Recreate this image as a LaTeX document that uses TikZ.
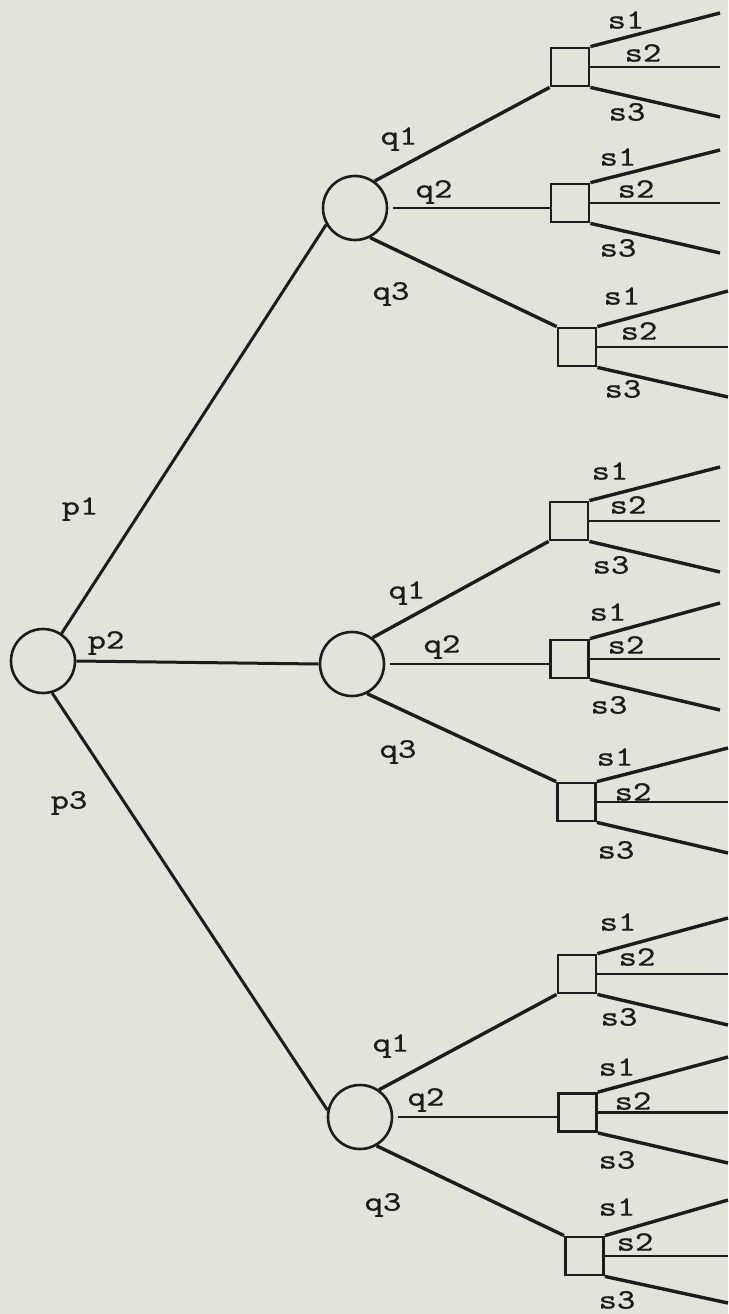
\documentclass[tikz,border=0pt]{standalone}
\usepackage{fontspec}
\newfontfamily\labfont[FakeStretch=1.25,FakeBold=0.7]{lmmono10-regular.otf}
\definecolor{bg}{RGB}{226,227,219}
\definecolor{ink}{RGB}{28,28,28}
\begin{document}
\begin{tikzpicture}[x=1pt,y=-1pt,
  chance/.style={circle,draw=ink,line width=2.6pt,minimum size=64pt,inner sep=0pt},
  decision/.style={rectangle,draw=ink,line width=2.8pt,minimum size=38pt,inner sep=0pt},
  heavy/.style={draw=ink,line width=3.4pt},
  plink/.style={draw=ink,line width=3pt},
  light/.style={draw=ink,line width=2.4pt},
  lab/.style={font=\labfont\fontsize{28}{30}\selectfont,text=ink,inner sep=0pt}]
\fill[bg] (0,0) rectangle (728,1314);
\useasboundingbox (0,0) rectangle (728,1314);

% chance nodes
\node[chance] (R) at (43,661) {};
\node[chance] (T) at (355,208) {};
\node[chance] (M) at (352,664) {};
\node[chance] (B) at (360,1117) {};

% decision nodes and their outcome branches
\foreach \n/\cx/\cy/\xe/\ya/\yc/\ax/\ay/\bx/\by/\dx/\dy in {
  A1/570/67/720/13/117/626/20/643/53/627/112,
  A2/570/203/720/150/253/618/157/636/189/618/248,
  A3/577/347/728/291/397/622/296/639/331/623/389,
  B1/569/521/720/467/572/610/471/628/505/611/565,
  B2/569.5/659/720/603/710/608/612/626/645/609/705,
  B3/576.5/802/728/748/853/615/757/633/792/616/850,
  C1/577/974/728/918/1025/618/922/637/957/619/1017,
  C2/577.5/1112.5/728/1057/1163/617/1067/633/1101/617/1160,
  C3/584.5/1256/728/1200/1303/617/1207/635/1242/617/1300}{
  \node[decision] (\n) at (\cx,\cy) {};
  \coordinate (\n e1) at (\xe,\ya);
  \coordinate (\n e3) at (\xe,\yc);
  \coordinate (\n e2) at (\xe,\cy);
  \draw[heavy] (\n.north east) -- (\n e1);
  \draw[light] (\n.east) -- (\n e2);
  \draw[heavy] (\n.south east) -- (\n e3);
  \node[lab] at (\ax,\ay) {s1};
  \node[lab] at (\bx,\by) {s2};
  \node[lab] at (\dx,\dy) {s3};
}

% root branches
\draw[plink] (R.56) -- (T.210);
\draw[plink] (R.east) -- (M.west);
\draw[plink] (R.286) -- (B.168);
\node[lab] at (80,509) {p1};
\node[lab] at (106,643) {p2};
\node[lab] at (69,803) {p3};

% second-level branches
\draw[heavy] (T.54) -- (A1.south west);
\draw[light] ([xshift=5pt]T.east) -- (T.east -| A2.west);
\draw[heavy] (T.-63) -- (A3.north west);
\node[lab] at (399,139) {q1};
\node[lab] at (434,192) {q2};
\node[lab] at (391,294) {q3};

\draw[heavy] (M.52) -- (B1.south west);
\draw[light] ([xshift=5pt]M.east) -- (M.east -| B2.west);
\draw[heavy] (M.-63) -- (B3.north west);
\node[lab] at (407,593) {q1};
\node[lab] at (442,647) {q2};
\node[lab] at (398,752) {q3};

\draw[heavy] (B.55) -- (C1.south west);
\draw[light] ([xshift=5pt]B.east) -- (B.east -| C2.west);
\draw[heavy] (B.-60) -- (C3.north west);
\node[lab] at (391,1046) {q1};
\node[lab] at (426,1100) {q2};
\node[lab] at (383,1205) {q3};
\end{tikzpicture}
\end{document}
